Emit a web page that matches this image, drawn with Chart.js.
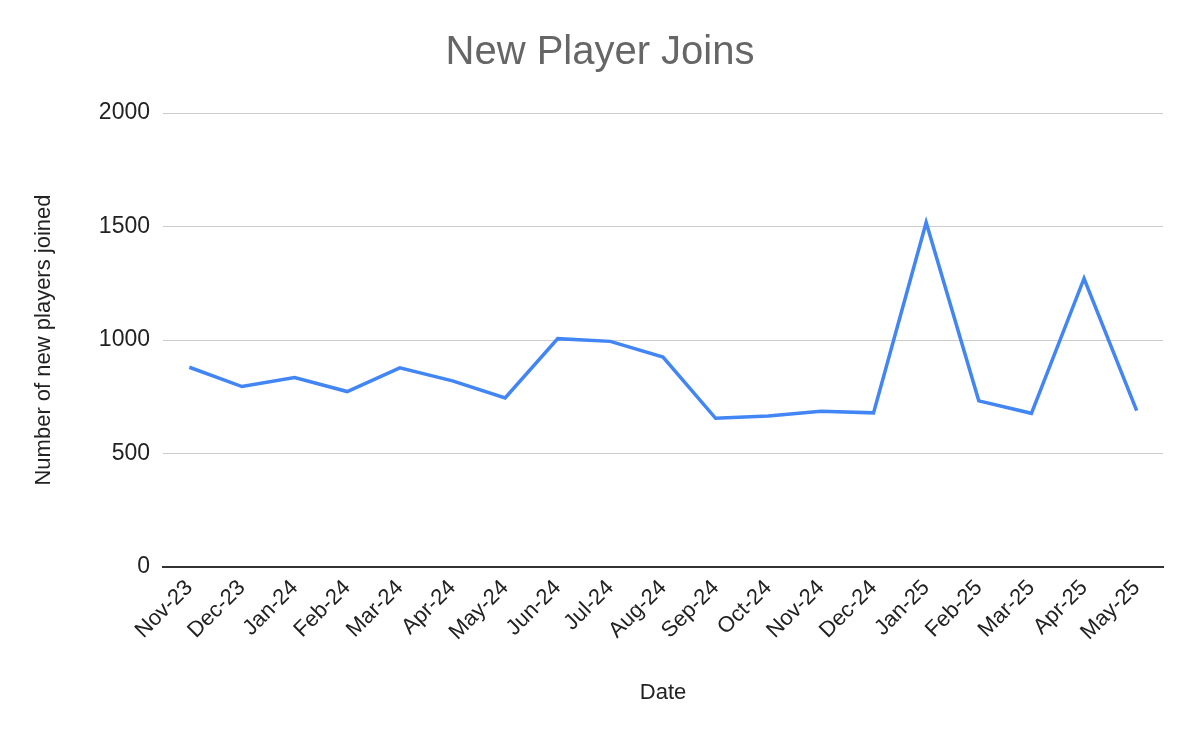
<!DOCTYPE html>
<html>
<head>
<meta charset="utf-8">
<script src="https://cdn.jsdelivr.net/npm/chart.js@4"></script>
<style>
html,body{margin:0;padding:0;background:#fff;}
#wrap{width:1200px;height:742px;}
</style>
</head>
<body>
<div id="wrap"><canvas id="c" width="1200" height="742"></canvas></div>
<script>
const categories = ["Nov-23","Dec-23","Jan-24","Feb-24","Mar-24","Apr-24","May-24","Jun-24","Jul-24","Aug-24","Sep-24","Oct-24","Nov-24","Dec-24","Jan-25","Feb-25","Mar-25","Apr-25","May-25"];
const newPlayers = [880, 795, 835, 773, 877, 820, 745, 1006, 994, 925, 655, 665, 686, 679, 1518, 732, 677, 1271, 689];
const yTicks = [0, 500, 1000, 1500, 2000];

const FONT = "Arial, 'Liberation Sans', Helvetica, sans-serif";

new Chart(document.getElementById('c'), {
  type: 'line',
  data: {
    labels: categories,
    datasets: [{
      label: 'Number of new players joined',
      data: newPlayers,
      borderColor: '#4285F4',
      backgroundColor: '#4285F4',
      borderWidth: 3.5,
      pointRadius: 0,
      tension: 0,
      fill: false,
      yAxisID: 'y'
    }]
  },
  options: {
    responsive: false,
    animation: false,
    layout: { padding: 0 },
    plugins: {
      legend: { display: false },
      tooltip: { enabled: false },
      title: {
        display: true,
        text: 'New Player Joins',
        color: '#666666',
        font: { family: FONT, size: 40, weight: 'normal' },
        padding: { top: 29, bottom: 36 }
      }
    },
    scales: {
      x: {
        offset: true,
        grid: { display: false, drawTicks: false },
        border: { display: true, color: '#333333', width: 2 },
        ticks: {
          minRotation: 45,
          maxRotation: 45,
          autoSkip: false,
          padding: 8,
          color: '#222222',
          font: { family: FONT, size: 22 }
        },
        title: {
          display: true,
          text: 'Date',
          color: '#222222',
          font: { family: FONT, size: 22 },
          padding: { top: 0, bottom: 36 }
        },
        afterFit: function(scale) { scale.height = 175; }
      },
      y: {
        position: 'left',
        min: yTicks[0],
        max: yTicks[yTicks.length - 1],
        afterBuildTicks: function(scale) { scale.ticks = yTicks.map(v => ({ value: v })); },
        grid: { color: '#cccccc', lineWidth: 1, drawTicks: false },
        border: { display: false },
        ticks: {
          padding: 13,
          color: '#222222',
          font: { family: FONT, size: 23 },
          callback: function(value) { return String(value); }
        },
        title: {
          display: true,
          text: 'Number of new players joined',
          color: '#222222',
          font: { family: FONT, size: 22 },
          padding: { top: 31, bottom: 0 }
        },
        afterFit: function(scale) { scale.width = 163; }
      },
      yRight: {
        position: 'right',
        display: true,
        min: yTicks[0],
        max: yTicks[yTicks.length - 1],
        grid: { display: false, drawTicks: false },
        border: { display: false },
        ticks: { display: false },
        afterFit: function(scale) { scale.width = 37; }
      }
    }
  }
});
</script>
</body>
</html>
